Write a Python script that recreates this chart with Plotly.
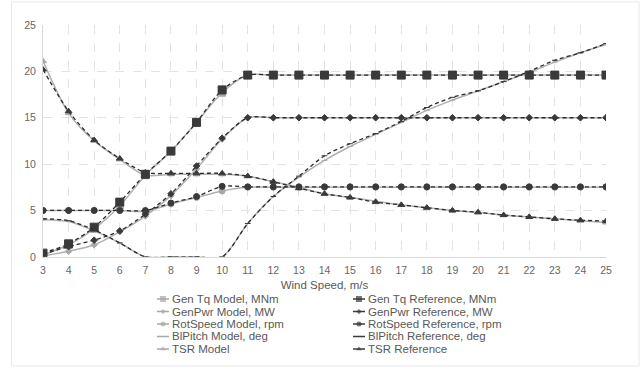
import plotly.graph_objects as go

# Wind speed bins, m/s
wind = list(range(3, 26))

gen_tq_model = [0.2, 1.3, 3.0, 5.5, 8.8, 11.4, 14.5, 17.7, 19.6, 19.6, 19.6, 19.6, 19.6, 19.6,
                19.6, 19.6, 19.6, 19.6, 19.6, 19.6, 19.6, 19.6, 19.6]
gen_tq_ref = [0.4, 1.4, 3.2, 5.9, 8.9, 11.4, 14.5, 18.0, 19.6, 19.6, 19.6, 19.6, 19.6, 19.6,
              19.6, 19.6, 19.6, 19.6, 19.6, 19.6, 19.6, 19.6, 19.6]
gen_pwr_model = [0.1, 0.6, 1.3, 2.7, 4.4, 6.6, 9.5, 12.7, 15.0, 15.0, 15.0, 15.0, 15.0, 15.0,
                 15.0, 15.0, 15.0, 15.0, 15.0, 15.0, 15.0, 15.0, 15.0]
gen_pwr_ref = [0.3, 1.1, 1.8, 2.8, 4.6, 6.8, 9.8, 12.8, 15.0, 15.0, 15.0, 15.0, 15.0, 15.0,
               15.0, 15.0, 15.0, 15.0, 15.0, 15.0, 15.0, 15.0, 15.0]
rot_speed_model = [5.0, 5.0, 5.0, 5.0, 4.9, 5.7, 6.4, 7.1, 7.5, 7.5, 7.5, 7.5, 7.5, 7.5,
                   7.5, 7.5, 7.5, 7.5, 7.5, 7.5, 7.5, 7.5, 7.5]
rot_speed_ref = [5.0, 5.0, 5.0, 5.0, 5.0, 5.8, 6.5, 7.6, 7.55, 7.55, 7.55, 7.55, 7.55, 7.55,
                 7.55, 7.55, 7.55, 7.55, 7.55, 7.55, 7.55, 7.55, 7.55]
bl_pitch_model = [4.0, 3.8, 2.8, 1.5, 0.0, 0.0, 0.0, 0.0, 3.6, 6.5, 8.6, 10.4, 11.9, 13.2,
                  14.5, 15.8, 16.9, 17.9, 18.9, 19.9, 21.0, 22.0, 22.9]
bl_pitch_ref = [4.1, 3.9, 2.9, 1.5, 0.0, 0.0, 0.0, 0.0, 3.6, 6.5, 8.7, 10.9, 12.2, 13.3,
                14.6, 16.1, 17.2, 17.9, 18.9, 20.0, 21.2, 22.0, 23.0]
tsr_model = [21.1, 15.5, 12.5, 10.5, 8.8, 8.9, 8.9, 8.9, 8.7, 8.1, 7.5, 6.8, 6.4, 6.0,
             5.6, 5.3, 5.0, 4.8, 4.5, 4.3, 4.1, 3.9, 3.7]
tsr_ref = [20.2, 15.7, 12.6, 10.6, 9.1, 9.0, 9.0, 9.0, 8.7, 8.1, 7.4, 6.8, 6.4, 5.9,
           5.6, 5.3, 5.0, 4.8, 4.5, 4.3, 4.1, 3.95, 3.85]

series_names = [
    "Gen Tq Model, MNm", "Gen Tq Reference, MNm",
    "GenPwr Model, MW", "GenPwr Reference, MW",
    "RotSpeed Model, rpm", "RotSpeed Reference, rpm",
    "BlPitch Model, deg", "BlPitch Reference, deg",
    "TSR Model", "TSR Reference",
]
series_values = [
    gen_tq_model, gen_tq_ref,
    gen_pwr_model, gen_pwr_ref,
    rot_speed_model, rot_speed_ref,
    bl_pitch_model, bl_pitch_ref,
    tsr_model, tsr_ref,
]

MODEL_LINE = "#b0b0b0"
MODEL_MARK = "#a8a8a8"
REF_LINE = "#2b2b2b"
REF_MARK = "#3a3a3a"

# (symbol, size) per quantity
symbols = [("square", 7), ("diamond", 5), ("circle", 6), ("line-ew", 4), ("triangle-up", 6)]

fig = go.Figure()


def add_curve(i):
    name, vals = series_names[i], series_values[i]
    is_ref = i % 2 == 1
    sym, size = symbols[i // 2]
    if is_ref and sym == "square":
        size = 8
    col_line = REF_LINE if is_ref else MODEL_LINE
    col_mark = REF_MARK if is_ref else MODEL_MARK
    fig.add_trace(go.Scatter(
        x=wind, y=vals, mode="lines+markers", name=name, showlegend=False,
        line=dict(color=col_line, width=1.3 if is_ref else 1.5,
                  dash="4px,3px" if is_ref else "solid", shape="spline", smoothing=0.8),
        marker=dict(symbol=sym, size=size, color=col_mark, line=dict(width=1, color=col_mark)),
    ))


# model curves first, reference curves on top
for i in range(0, len(series_names), 2):
    add_curve(i)
for i in range(1, len(series_names), 2):
    add_curve(i)

# Legend block: two columns, drawn on a helper axis measured in pixels
col_x = [163, 359]
row_y = [304, 316.7, 329.3, 342, 354.7]
for i, name in enumerate(series_names):
    is_ref = i % 2 == 1
    sym, size = symbols[i // 2]
    cx = col_x[1 if is_ref else 0]
    cy = row_y[i // 2]
    col = REF_MARK if is_ref else MODEL_MARK
    msize = 0 if sym == "line-ew" else max(size - 1, 4)
    fig.add_trace(go.Scatter(
        x=[cx - 6, cx, cx + 6], y=[cy, cy, cy], xaxis="x2", yaxis="y2",
        mode="lines+markers", showlegend=False, hoverinfo="skip",
        line=dict(color=col, width=1.5),
        marker=dict(symbol=sym if sym != "line-ew" else "circle", size=[0, msize, 0],
                    color=col, line=dict(width=0)),
    ))
    fig.add_annotation(x=cx + 7, y=cy, xref="x2", yref="y2", text=name, showarrow=False,
                       xanchor="left", yanchor="middle",
                       font=dict(family="Liberation Sans, Arial", size=11.5, color="#595959"))

fig.update_layout(
    width=643, height=370,
    margin=dict(l=43, r=37, t=25, b=5),
    paper_bgcolor="white", plot_bgcolor="white",
    font=dict(family="Liberation Sans, Arial", color="#666666"),
    xaxis=dict(range=[3, 25], domain=[0, 1], anchor="y",
               tickmode="linear", tick0=3, dtick=1,
               showgrid=True, gridcolor="#e3e3e3", griddash="dash", gridwidth=1,
               showline=True, linecolor="#d9d9d9", linewidth=1,
               zeroline=False, ticks="", tickfont=dict(size=10.5, color="#666666"),
               ticklabelstandoff=4,
               title=dict(text="Wind Speed, m/s", font=dict(size=11.5, color="#595959"),
                          standoff=5)),
    yaxis=dict(range=[0, 25], domain=[(365 - 261) / 340, 1], anchor="x",
               tickvals=[0, 5, 10, 15, 20, 25],
               showgrid=True, gridcolor="#e3e3e3", griddash="dash", gridwidth=1,
               showline=True, linecolor="#d9d9d9", linewidth=1,
               zeroline=False, ticks="", tickfont=dict(size=10.5, color="#666666"),
               ticklabelstandoff=4),
    xaxis2=dict(range=[43, 606], domain=[0, 1], anchor="y2", visible=False, fixedrange=True),
    yaxis2=dict(range=[365, 365 - 0.28 * 340], domain=[0, 0.28], anchor="x2",
                visible=False, fixedrange=True),
    showlegend=False,
    shapes=[dict(type="rect", xref="paper", yref="paper",
                 x0=(11.5 - 43) / 563, x1=(639 - 43) / 563,
                 y0=(365 - 372) / 340, y1=(365 - 1.5) / 340,
                 line=dict(color="#e8e8e8", width=1), fillcolor="rgba(0,0,0,0)",
                 layer="below")],
)

fig.write_html("out.html")
